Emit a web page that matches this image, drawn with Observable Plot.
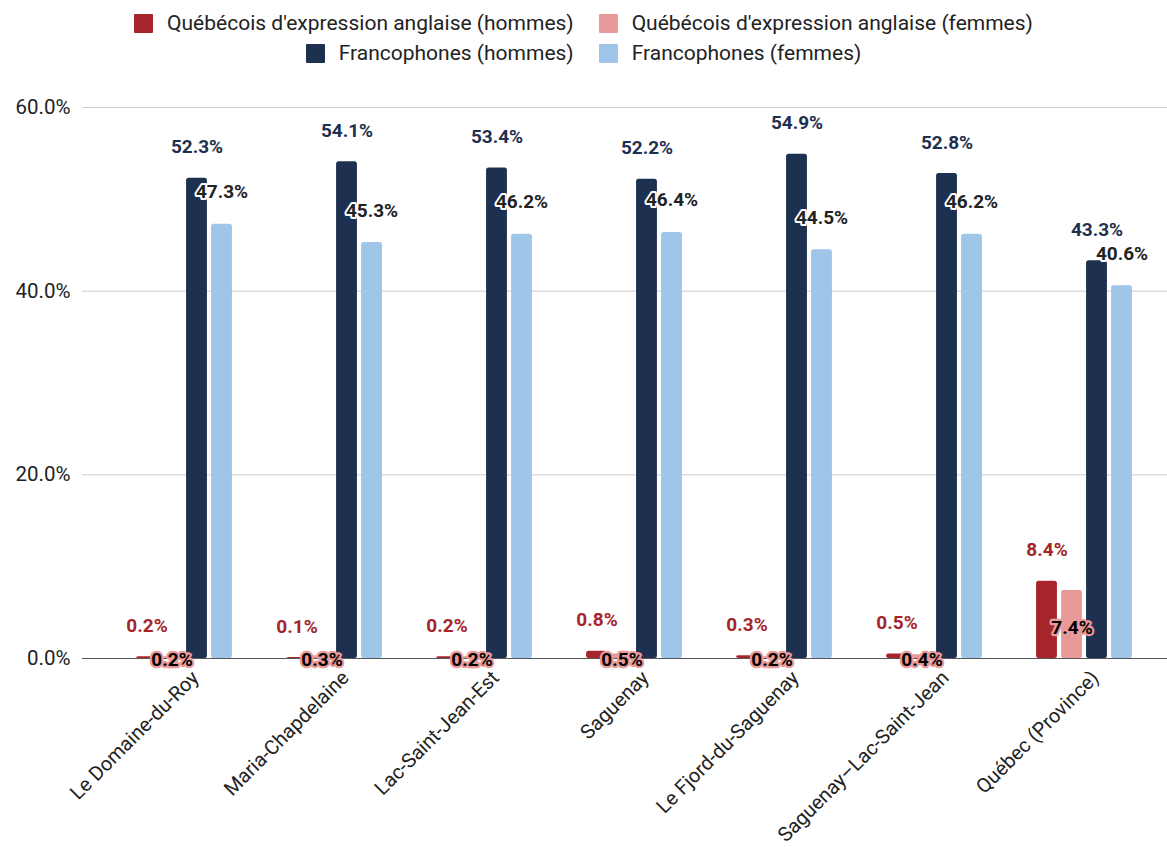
<!DOCTYPE html>
<html>
<head>
<meta charset="utf-8">
<script src="https://cdn.jsdelivr.net/npm/d3@7"></script>
<script src="https://cdn.jsdelivr.net/npm/@observablehq/plot@0.6"></script>
<style>
  body { margin: 0; background: #fff; font-family: Roboto, sans-serif; }
  #legend { height: 70px; box-sizing: border-box; padding-top: 8px; font-size: 21px; color: #222; }
  .row { display: flex; justify-content: center; gap: 25px; height: 30px; align-items: center; }
  .item { display: flex; align-items: center; gap: 14px; }
  .sw { width: 19px; height: 19px; display: inline-block; border-radius: 1px; }
</style>
</head>
<body>
<div id="legend"></div>
<div id="chart"></div>
<script>
const categories = ["Le Domaine-du-Roy", "Maria-Chapdelaine", "Lac-Saint-Jean-Est", "Saguenay", "Le Fjord-du-Saguenay", "Saguenay–Lac-Saint-Jean", "Québec (Province)"];
const seriesNames = ["Québécois d'expression anglaise (hommes)", "Québécois d'expression anglaise (femmes)", "Francophones (hommes)", "Francophones (femmes)"];
const seriesColors = ["#a6252b", "#e89a9a", "#1d3050", "#9fc5e8"];
const angloHommes = [0.2, 0.1, 0.2, 0.8, 0.3, 0.5, 8.4];
const angloFemmes = [0.2, 0.3, 0.2, 0.5, 0.2, 0.4, 7.4];
const francoHommes = [52.3, 54.1, 53.4, 52.2, 54.9, 52.8, 43.3];
const francoFemmes = [47.3, 45.3, 46.2, 46.4, 44.5, 46.2, 40.6];
const yTicks = [0, 20, 40, 60];

const seriesValues = [angloHommes, angloFemmes, francoHommes, francoFemmes];
const table = seriesValues.map((vals, s) => categories.map((c, i) => ({category: c, series: seriesNames[s], s, value: vals[i]})));

// legend
const legend = document.getElementById("legend");
[[0, 1], [2, 3]].forEach(idx => {
  const row = document.createElement("div");
  row.className = "row";
  idx.forEach(s => {
    const it = document.createElement("div");
    it.className = "item";
    it.innerHTML = `<span class="sw" style="background:${seriesColors[s]}"></span><span>${seriesNames[s]}</span>`;
    row.appendChild(it);
  });
  legend.appendChild(row);
});

const xRange = [108, 1159];
const band = (xRange[1] - xRange[0]) / categories.length;
const barStep = 25, barW = 21;
const fmt = v => v.toFixed(1) + "%";

const marks = [
  Plot.ruleY(yTicks.filter(t => t > 0), {stroke: "#cccccc", strokeWidth: 1}),
];
table.forEach((rows, s) => {
  const left = band / 2 + (s - 2) * barStep + (barStep - barW) / 2;
  marks.push(Plot.barY(rows, {
    x: "category", y: "value", fill: seriesColors[s],
    insetLeft: left, insetRight: band - left - barW, rx: 2.5
  }));
});
marks.push(Plot.ruleY([0], {stroke: "#555", strokeWidth: 1.2}));
const offs = s => (s - 1.5) * barStep;
// category labels
marks.push(Plot.text(categories, {x: d => d, y: () => 0, text: d => d, rotate: -45, textAnchor: "end",
  dx: 11, dy: 16, fill: "#222", fontSize: 20}));
// value labels
marks.push(Plot.text(table[0], {x: "category", y: "value", text: d => fmt(d.value), dx: offs(0), dy: -31,
  fill: "#a6252b", fontWeight: "bold", fontSize: 19}));
marks.push(Plot.text(table[2], {x: "category", y: "value", text: d => fmt(d.value), dx: offs(2), dy: -31,
  fill: "#1d3050", fontWeight: "bold", fontSize: 19}));
marks.push(Plot.text(table[3], {x: "category", y: "value", text: d => fmt(d.value), dx: offs(3), dy: -32,
  fill: "#222", stroke: "#fff", strokeWidth: 4, paintOrder: "stroke", fontWeight: "bold", fontSize: 19}));
marks.push(Plot.text(table[1], {x: "category", y: d => Math.max(d.value - 4.03, -0.1), text: d => fmt(d.value), dx: offs(1),
  fill: "#000", stroke: "#e89a9a", strokeWidth: 4.5, paintOrder: "stroke", fontWeight: "bold", fontSize: 19}));

const chart = Plot.plot({
  width: 1167, height: 777,
  marginTop: 37, marginBottom: 189, marginLeft: 82, marginRight: 0,
  style: {fontFamily: "Roboto, sans-serif", fontSize: "20.5px", color: "#222", background: "#fff", overflow: "visible"},
  x: {domain: categories, range: xRange, padding: 0, axis: null},
  y: {domain: [0, 60], ticks: yTicks, tickFormat: fmt, tickSize: 0, tickPadding: 12, label: null},
  marks
});
document.getElementById("chart").appendChild(chart);
</script>
</body>
</html>
